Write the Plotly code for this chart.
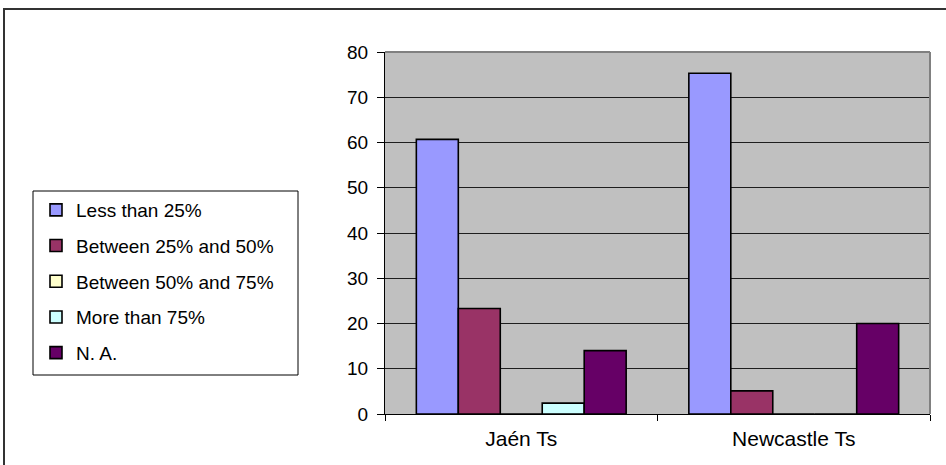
import plotly.graph_objects as go

categories = ["Jaén Ts", "Newcastle Ts"]
series_names = ["Less than 25%", "Between 25% and 50%", "Between 50% and 75%",
                "More than 75%", "N. A."]
less_than_25 = [60.7, 75.3]
between_25_50 = [23.3, 5.1]
between_50_75 = [0.0, 0.0]
more_than_75 = [2.4, 0.0]
not_available = [14.0, 20.0]
y_ticks = [0, 10, 20, 30, 40, 50, 60, 70, 80]

series_values = [less_than_25, between_25_50, between_50_75, more_than_75, not_available]
colors = ["#9999FF", "#993366", "#FFFFCC", "#CCFFFF", "#660066"]

W, H = 946, 465
L, R, T, B = 385, 16, 52, 51
pw, ph = W - L - R, H - T - B

fig = go.Figure()
for i, (name, vals, col) in enumerate(zip(series_names, series_values, colors)):
    fig.add_trace(go.Bar(
        x=categories, y=vals, name=name, legendgroup=f"g{i}",
        marker=dict(color=col, line=dict(color="#000000", width=1.6)),
    ))

font = "Liberation Sans, Arial, sans-serif"

def px_x(x):
    return (x - L) / pw

def px_y(y):
    return (H - B - y) / ph

fig.update_layout(
    width=W, height=H,
    margin=dict(l=L, r=R, t=T, b=B, pad=0),
    paper_bgcolor="#FFFFFF",
    plot_bgcolor="#C0C0C0",
    barmode="group",
    bargap=0.23,
    bargroupgap=0,
    font=dict(family=font, size=17, color="#000000"),
    showlegend=True,
    legend=dict(
        x=px_x(36), y=px_y(191), xanchor="left", yanchor="top",
        borderwidth=0, bgcolor="rgba(0,0,0,0)",
        font=dict(family=font, size=19, color="#000000"),
        tracegroupgap=8, traceorder="grouped",
        itemclick=False,
    ),
    xaxis=dict(
        type="category",
        showline=True, linecolor="#000000", linewidth=1,
        ticks="outside", tickson="boundaries", ticklen=6, tickcolor="#000000",
        showgrid=False, zeroline=False,
        tickfont=dict(family=font, size=21, color="#000000"),
        ticklabelstandoff=6,
    ),
    yaxis=dict(
        range=[0, 80], tickvals=y_ticks,
        showline=True, linecolor="#000000", linewidth=1,
        ticks="outside", ticklen=7, tickcolor="#000000",
        showgrid=True, gridcolor="#1E1E1E", gridwidth=1,
        zeroline=False,
        tickfont=dict(family=font, size=19, color="#000000"),
        ticklabelstandoff=5,
    ),
    shapes=[
        # gray frame along the top and right of the plotting area
        dict(type="line", xref="paper", yref="paper", x0=0, x1=1, y0=1, y1=1,
             line=dict(color="#808080", width=2), layer="above"),
        dict(type="line", xref="paper", yref="paper", x0=1, x1=1, y0=0, y1=1,
             line=dict(color="#808080", width=2), layer="above"),
        # legend box
        dict(type="rect", xref="paper", yref="paper",
             x0=px_x(33), x1=px_x(298), y0=px_y(375), y1=px_y(191),
             line=dict(color="#000000", width=1), fillcolor="#FFFFFF", layer="below"),
        # outer chart border
        dict(type="rect", xref="paper", yref="paper",
             x0=px_x(4), x1=px_x(970), y0=px_y(490), y1=px_y(9),
             line=dict(color="#333333", width=2), layer="above"),
    ],
)

fig.write_html("out.html")
